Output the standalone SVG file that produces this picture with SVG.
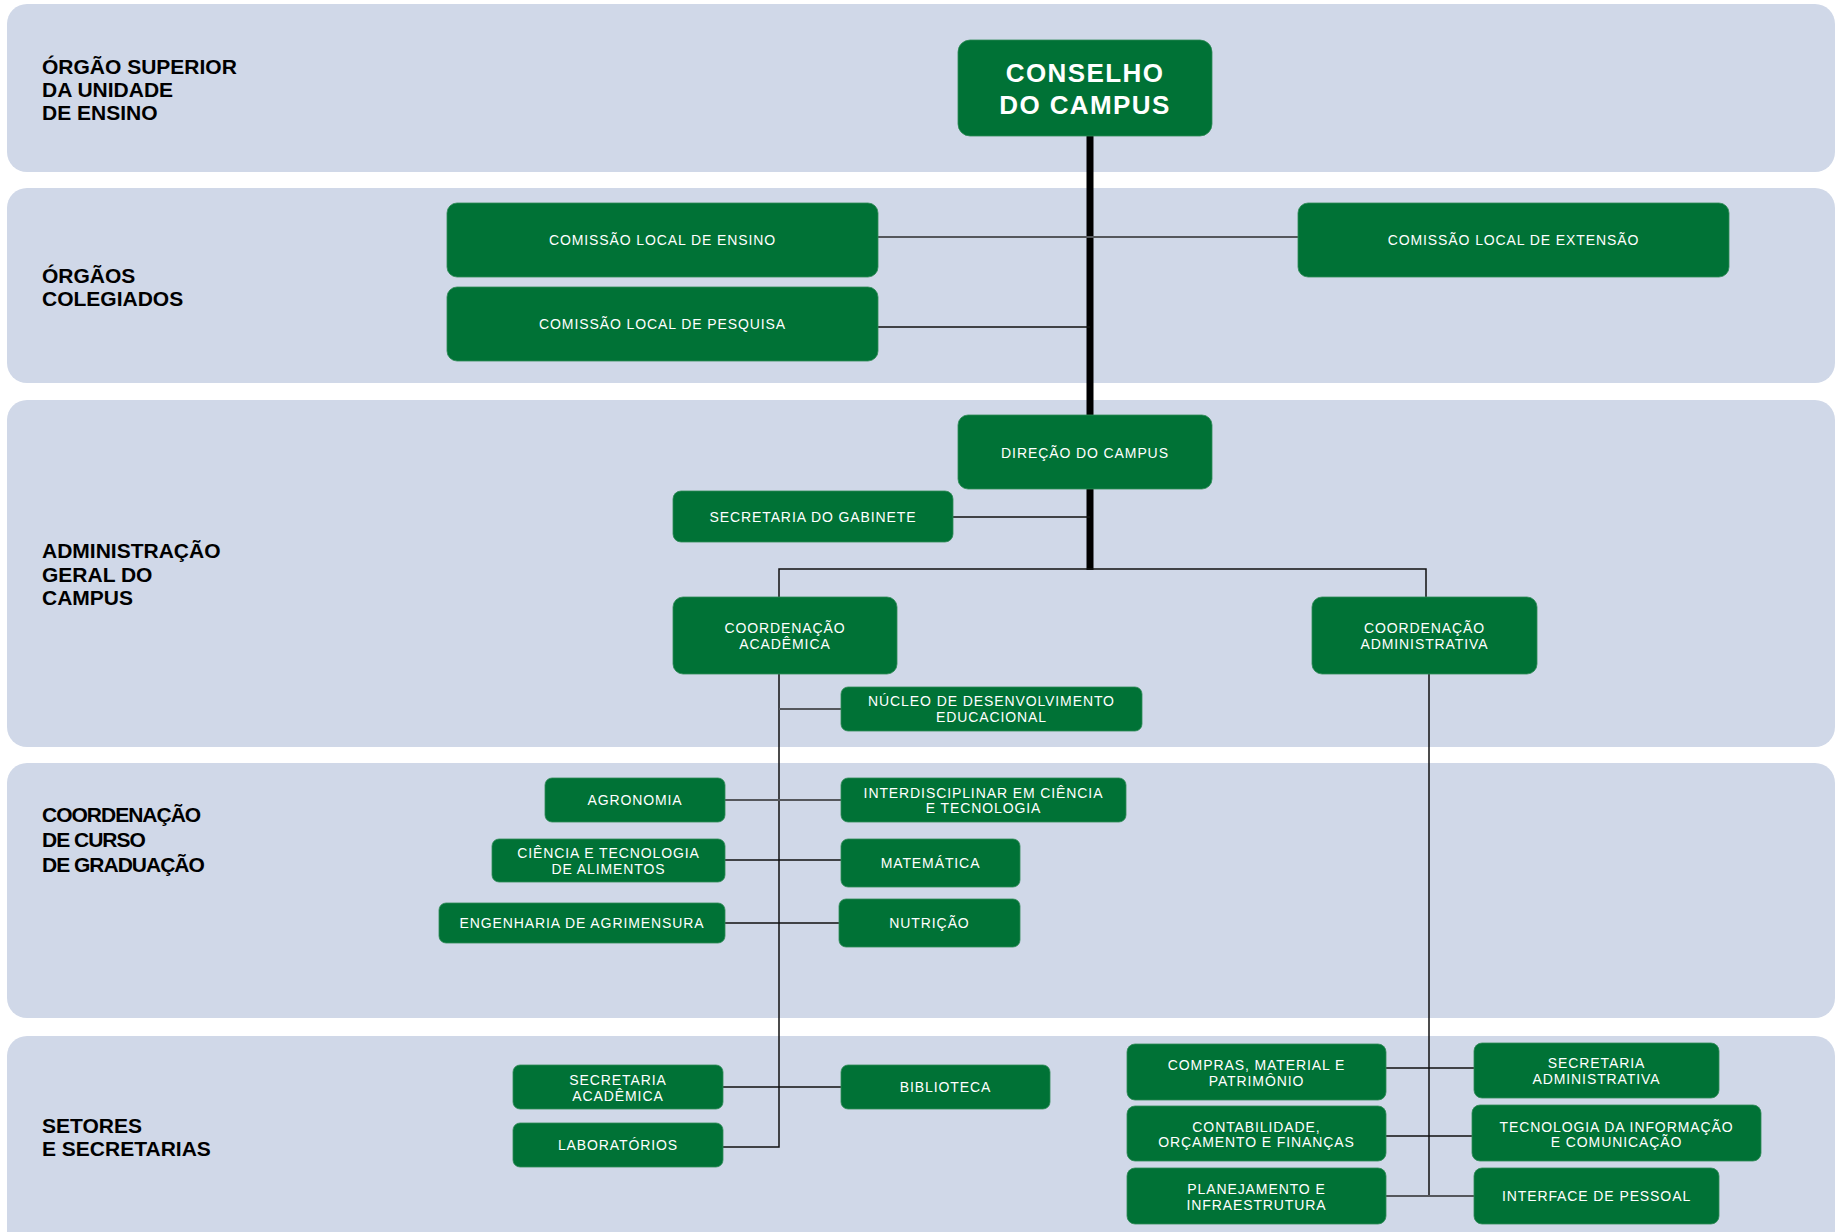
<svg xmlns="http://www.w3.org/2000/svg" width="1835" height="1232" viewBox="0 0 1835 1232">
<style>
.band{fill:#D0D8E8}
.lbl{font-family:"Liberation Sans",Arial,sans-serif;font-weight:bold;font-size:21px;fill:#000}
.cond{letter-spacing:-1px}
.box{fill:#007236;stroke:#2f8a56;stroke-width:0.8}
.t{font-family:"Liberation Sans",Arial,sans-serif;font-size:14px;letter-spacing:0.9px;fill:#fff;text-anchor:middle}
.tb{font-family:"Liberation Sans",Arial,sans-serif;font-size:26px;font-weight:bold;letter-spacing:1.4px;fill:#fff;text-anchor:middle}
.thick{stroke:#000;stroke-width:7;fill:none}
.ln{stroke:#111;stroke-width:1.5;fill:none}
.lg{stroke:#55575c;stroke-width:2;fill:none}
</style>
<rect width="1835" height="1232" fill="#fff"/>
<g id="bands">
<rect class="band" x="7" y="4" width="1828" height="168" rx="20"/>
<rect class="band" x="7" y="188" width="1828" height="195" rx="20"/>
<rect class="band" x="7" y="400" width="1828" height="347" rx="20"/>
<rect class="band" x="7" y="763" width="1828" height="255" rx="20"/>
<rect class="band" x="7" y="1036" width="1828" height="230" rx="20"/>
</g>
<g id="labels">
<text class="lbl" x="42" y="74">ÓRGÃO SUPERIOR</text>
<text class="lbl" x="42" y="97">DA UNIDADE</text>
<text class="lbl" x="42" y="120">DE ENSINO</text>
<text class="lbl" x="42" y="283">ÓRGÃOS</text>
<text class="lbl" x="42" y="306">COLEGIADOS</text>
<text class="lbl" x="42" y="558">ADMINISTRAÇÃO</text>
<text class="lbl" x="42" y="582">GERAL DO</text>
<text class="lbl" x="42" y="605">CAMPUS</text>
<text class="lbl cond" x="42" y="822">COORDENAÇÃO</text>
<text class="lbl cond" x="42" y="847">DE CURSO</text>
<text class="lbl cond" x="42" y="872">DE GRADUAÇÃO</text>
<text class="lbl" x="42" y="1133">SETORES</text>
<text class="lbl" x="42" y="1156">E SECRETARIAS</text>
</g>
<g id="connectors">
<path class="thick" d="M1090,136 V415"/>
<path class="thick" d="M1090,489 V570"/>
<path class="lg" d="M878,237 H1298"/>
<path class="ln" d="M878,327 H1090"/>
<path class="ln" d="M953,517 H1090"/>
<path class="ln" d="M779,597 V569 H1426 V597"/>
<path class="ln" d="M779,674 V1147 H723"/>
<path class="lg" d="M779,709 H841"/>
<path class="lg" d="M725,800 H841"/>
<path class="ln" d="M725,860 H841"/>
<path class="ln" d="M725,923 H839"/>
<path class="ln" d="M723,1087 H841"/>
<path class="ln" d="M1429,674 V1196"/>
<path class="ln" d="M1386,1068 H1474"/>
<path class="ln" d="M1386,1136 H1472"/>
<path class="lg" d="M1386,1196 H1474"/>
</g>
<g id="conselho"><rect class="box" x="958" y="40" width="254" height="96" rx="12"/><text class="tb" x="1085" y="82">CONSELHO</text><text class="tb" x="1085" y="114">DO CAMPUS</text></g>
<g id="com-ensino"><rect class="box" x="447" y="203" width="431" height="74" rx="10"/><text class="t" x="662.5" y="245">COMISSÃO LOCAL DE ENSINO</text></g>
<g id="com-pesquisa"><rect class="box" x="447" y="287" width="431" height="74" rx="10"/><text class="t" x="662.5" y="329">COMISSÃO LOCAL DE PESQUISA</text></g>
<g id="com-extensao"><rect class="box" x="1298" y="203" width="431" height="74" rx="10"/><text class="t" x="1513.5" y="245">COMISSÃO LOCAL DE EXTENSÃO</text></g>
<g id="direcao"><rect class="box" x="958" y="415" width="254" height="74" rx="10"/><text class="t" x="1085" y="458">DIREÇÃO DO CAMPUS</text></g>
<g id="sec-gabinete"><rect class="box" x="673" y="491" width="280" height="51" rx="8"/><text class="t" x="813" y="522">SECRETARIA DO GABINETE</text></g>
<g id="coord-acad"><rect class="box" x="673" y="597" width="224" height="77" rx="10"/><text class="t" x="785" y="633">COORDENAÇÃO</text><text class="t" x="785" y="649">ACADÊMICA</text></g>
<g id="coord-adm"><rect class="box" x="1312" y="597" width="225" height="77" rx="10"/><text class="t" x="1424.5" y="633">COORDENAÇÃO</text><text class="t" x="1424.5" y="649">ADMINISTRATIVA</text></g>
<g id="nde"><rect class="box" x="841" y="687" width="301" height="44" rx="7"/><text class="t" x="991.5" y="706">NÚCLEO DE DESENVOLVIMENTO</text><text class="t" x="991.5" y="722">EDUCACIONAL</text></g>
<g id="agronomia"><rect class="box" x="545" y="778" width="180" height="44" rx="7"/><text class="t" x="635" y="805">AGRONOMIA</text></g>
<g id="interdisciplinar"><rect class="box" x="841" y="778" width="285" height="44" rx="7"/><text class="t" x="983.5" y="798">INTERDISCIPLINAR EM CIÊNCIA</text><text class="t" x="983.5" y="813">E TECNOLOGIA</text></g>
<g id="cta"><rect class="box" x="492" y="839" width="233" height="43" rx="7"/><text class="t" x="608.5" y="858">CIÊNCIA E TECNOLOGIA</text><text class="t" x="608.5" y="874">DE ALIMENTOS</text></g>
<g id="matematica"><rect class="box" x="841" y="839" width="179" height="48" rx="7"/><text class="t" x="930.5" y="868">MATEMÁTICA</text></g>
<g id="eng-agrimensura"><rect class="box" x="439" y="903" width="286" height="40" rx="7"/><text class="t" x="582" y="928">ENGENHARIA DE AGRIMENSURA</text></g>
<g id="nutricao"><rect class="box" x="839" y="899" width="181" height="48" rx="7"/><text class="t" x="929.5" y="928">NUTRIÇÃO</text></g>
<g id="sec-academica"><rect class="box" x="513" y="1065" width="210" height="44" rx="7"/><text class="t" x="618" y="1085">SECRETARIA</text><text class="t" x="618" y="1101">ACADÊMICA</text></g>
<g id="biblioteca"><rect class="box" x="841" y="1065" width="209" height="44" rx="7"/><text class="t" x="945.5" y="1092">BIBLIOTECA</text></g>
<g id="laboratorios"><rect class="box" x="513" y="1123" width="210" height="44" rx="7"/><text class="t" x="618" y="1150">LABORATÓRIOS</text></g>
<g id="compras"><rect class="box" x="1127" y="1044" width="259" height="56" rx="8"/><text class="t" x="1256.5" y="1070">COMPRAS, MATERIAL E</text><text class="t" x="1256.5" y="1086">PATRIMÔNIO</text></g>
<g id="contabilidade"><rect class="box" x="1127" y="1106" width="259" height="55" rx="8"/><text class="t" x="1256.5" y="1132">CONTABILIDADE,</text><text class="t" x="1256.5" y="1147">ORÇAMENTO E FINANÇAS</text></g>
<g id="planejamento"><rect class="box" x="1127" y="1168" width="259" height="56" rx="8"/><text class="t" x="1256.5" y="1194">PLANEJAMENTO E</text><text class="t" x="1256.5" y="1210">INFRAESTRUTURA</text></g>
<g id="sec-administrativa"><rect class="box" x="1474" y="1043" width="245" height="55" rx="8"/><text class="t" x="1596.5" y="1068">SECRETARIA</text><text class="t" x="1596.5" y="1084">ADMINISTRATIVA</text></g>
<g id="ti"><rect class="box" x="1472" y="1105" width="289" height="56" rx="8"/><text class="t" x="1616.5" y="1132">TECNOLOGIA DA INFORMAÇÃO</text><text class="t" x="1616.5" y="1147">E COMUNICAÇÃO</text></g>
<g id="interface"><rect class="box" x="1474" y="1168" width="245" height="56" rx="8"/><text class="t" x="1596.5" y="1201">INTERFACE DE PESSOAL</text></g>
</svg>
